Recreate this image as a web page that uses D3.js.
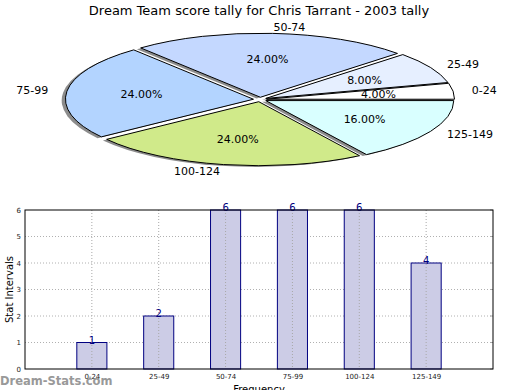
<!DOCTYPE html>
<html>
<head>
<meta charset="utf-8">
<script src="https://cdn.jsdelivr.net/npm/d3@7"></script>
<style>
  body { margin: 0; background: #fff; }
  text { font-family: "DejaVu Sans", sans-serif; }
</style>
</head>
<body>
<svg id="chart" width="520" height="390"></svg>
<script>
// data
var categories = ["0-24", "25-49", "50-74", "75-99", "100-124", "125-149"];
var counts = [1, 2, 6, 6, 6, 4];
var sliceColors = ["#ffffff", "#e6efff", "#c4d8ff", "#b3d4ff", "#d0ea8a", "#d9ffff"];
var yTicks = [0, 1, 2, 3, 4, 5, 6];

var svg = d3.select("#chart");

svg.append("text")
  .attr("x", 259).attr("y", 15)
  .attr("text-anchor", "middle")
  .style("font-size", "13px")
  .text("Dream Team score tally for Chris Tarrant - 2003 tally");

// ---- pie (matplotlib style: ccw from 3 o'clock, exploded, shadow, squashed) ----
var cx = 260, cy = 99.5, rx = 188, ry = 64, explode = 0.035;
var total = d3.sum(counts);

var pie = d3.pie().sort(null)
  .startAngle(Math.PI / 2)
  .endAngle(Math.PI / 2 - 2 * Math.PI);
var slices = pie(counts);
var arc = d3.arc().innerRadius(0).outerRadius(1);

// mid angle in math convention (radians ccw from +x)
function theta(d) { return Math.PI / 2 - (d.startAngle + d.endAngle) / 2; }

var pieG = svg.append("g");

// shadows first
pieG.selectAll(".shadow")
  .data(slices)
  .enter()
  .append("path")
  .attr("class", "shadow")
  .attr("transform", d => {
    var t = theta(d);
    var ox = cx + explode * rx * Math.cos(t) - 0.02 * rx;
    var oy = cy - explode * ry * Math.sin(t) + 0.02 * ry;
    return "translate(" + ox + "," + oy + ") scale(" + rx + "," + ry + ")";
  })
  .attr("d", arc)
  .attr("fill", "#000")
  .attr("fill-opacity", 0.45);

pieG.selectAll(".slice")
  .data(slices)
  .enter()
  .append("path")
  .attr("class", "slice")
  .attr("transform", d => {
    var t = theta(d);
    var ox = cx + explode * rx * Math.cos(t);
    var oy = cy - explode * ry * Math.sin(t);
    return "translate(" + ox + "," + oy + ") scale(" + rx + "," + ry + ")";
  })
  .attr("d", arc)
  .attr("fill", (d, i) => sliceColors[i])
  .attr("stroke", "#000")
  .attr("stroke-width", 1)
  .attr("vector-effect", "non-scaling-stroke");

// category labels
pieG.selectAll(".lbl")
  .data(slices)
  .enter()
  .append("text")
  .attr("x", d => cx + (explode + 1.1) * rx * Math.cos(theta(d)))
  .attr("y", d => cy - (explode + 1.1) * ry * Math.sin(theta(d)))
  .attr("dy", "0.35em")
  .attr("text-anchor", d => Math.cos(theta(d)) > 0 ? "start" : "end")
  .style("font-size", "11px")
  .text((d, i) => categories[i]);

// percentage labels
pieG.selectAll(".pct")
  .data(slices)
  .enter()
  .append("text")
  .attr("x", d => cx + (explode + 0.6) * rx * Math.cos(theta(d)))
  .attr("y", d => cy - (explode + 0.6) * ry * Math.sin(theta(d)))
  .attr("dy", "0.35em")
  .attr("text-anchor", "middle")
  .style("font-size", "11px")
  .text(d => (d.value / total * 100).toFixed(2) + "%");

// ---- bar chart ----
var plotL = 25, plotR = 493, plotT = 210, plotB = 369;
var x = d3.scaleLinear().domain([0, 7]).range([plotL, plotR]);
var y = d3.scaleLinear().domain([0, 6]).range([plotB, plotT]);
var barW = x(0.45) - x(0);

var g = svg.append("g");

// horizontal grid
g.selectAll(".hgrid")
  .data(yTicks.slice(1, -1))
  .enter()
  .append("line")
  .attr("x1", plotL).attr("x2", plotR)
  .attr("y1", d => y(d)).attr("y2", d => y(d))
  .attr("stroke", "#b0b0b0")
  .attr("stroke-dasharray", "1,2");

g.selectAll(".bar")
  .data(counts)
  .enter()
  .append("rect")
  .attr("x", (d, i) => x(i + 1) - barW / 2)
  .attr("width", barW)
  .attr("y", d => y(d))
  .attr("height", d => plotB - y(d))
  .attr("fill", "#ccccE6")
  .attr("stroke", "#000080")
  .attr("stroke-width", 1);

// vertical grid over bars
g.selectAll(".vgrid")
  .data(categories)
  .enter()
  .append("line")
  .attr("x1", (d, i) => x(i + 1)).attr("x2", (d, i) => x(i + 1))
  .attr("y1", plotT).attr("y2", plotB)
  .attr("stroke", "#a8a8a8")
  .attr("stroke-dasharray", "1,2");

// value labels
g.selectAll(".val")
  .data(counts)
  .enter()
  .append("text")
  .attr("x", (d, i) => x(i + 1))
  .attr("y", d => y(d) + 1)
  .attr("text-anchor", "middle")
  .attr("fill", "#000080")
  .style("font-size", "10px")
  .text(d => d);

// axes
g.append("g")
  .attr("transform", "translate(0," + plotB + ")")
  .call(d3.axisBottom(x).tickValues([1, 2, 3, 4, 5, 6])
    .tickFormat((d) => categories[d - 1]).tickSize(0).tickPadding(5))
  .call(a => a.select(".domain").remove())
  .selectAll("text").style("font-size", "7px").attr("fill", "#222");

g.append("g")
  .attr("transform", "translate(" + plotL + ",0)")
  .call(d3.axisLeft(y).tickValues(yTicks).tickFormat(d3.format("d")).tickSize(0).tickPadding(4))
  .call(a => a.select(".domain").remove())
  .selectAll("text").style("font-size", "7px").attr("fill", "#222");

// small tick marks on right side
g.selectAll(".rtick")
  .data(yTicks)
  .enter()
  .append("line")
  .attr("x1", plotR - 3).attr("x2", plotR)
  .attr("y1", d => y(d)).attr("y2", d => y(d))
  .attr("stroke", "#aaa");

g.append("rect")
  .attr("x", plotL).attr("y", plotT)
  .attr("width", plotR - plotL).attr("height", plotB - plotT)
  .attr("fill", "none")
  .attr("stroke", "#000")
  .attr("stroke-width", 1);

svg.append("text")
  .attr("transform", "translate(13," + (plotT + plotB) / 2 + ") rotate(-90)")
  .attr("text-anchor", "middle")
  .style("font-size", "10px")
  .text("Stat Intervals");

svg.append("text")
  .attr("x", 259).attr("y", 393)
  .attr("text-anchor", "middle")
  .style("font-size", "10px")
  .text("Frequency");

svg.append("text")
  .attr("x", 0).attr("y", 385)
  .attr("fill", "#999")
  .style("font-size", "11.5px")
  .style("font-weight", "bold")
  .text("Dream-Stats.com");
</script>
</body>
</html>
